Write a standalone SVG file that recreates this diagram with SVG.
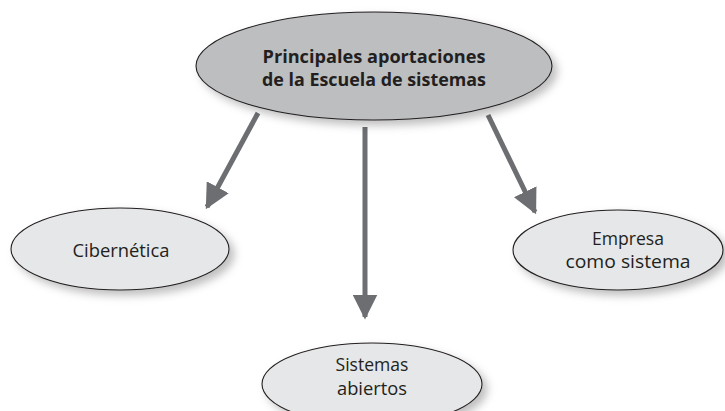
<svg xmlns="http://www.w3.org/2000/svg" width="725" height="411" viewBox="0 0 725 411">
<defs>
<filter id="sh" x="-20%" y="-20%" width="150%" height="160%">
<feDropShadow dx="5" dy="5" stdDeviation="4" flood-color="#000" flood-opacity="0.25"/>
</filter>
<marker id="ah" viewBox="0 0 10 10" refX="9" refY="5" markerWidth="5" markerHeight="5" orient="auto" markerUnits="strokeWidth">
<path d="M0,0 L10,5 L0,10 z" fill="#6d6e71"/>
</marker>
<style>
.n{stroke:#231f20;stroke-width:1.1;filter:url(#sh)}
.main{fill:#bcbec0}
.sub{fill:#e6e7e8}
.t{font-family:"Open Sans","Noto Sans",sans-serif;fill:#231f20;text-anchor:middle}
.tb{font-size:18.5px;font-weight:bold}
.ts{font-size:18px}
.c{stroke:#6d6e71;stroke-width:5;fill:none;marker-end:url(#ah)}
</style>
</defs>
<rect width="725" height="411" fill="#fff"/>
<g id="connectors">
<line class="c" x1="258" y1="113" x2="207" y2="207"/>
<line class="c" x1="365" y1="127" x2="365" y2="317"/>
<line class="c" x1="488" y1="115" x2="535" y2="212"/>
</g>
<g id="main">
<ellipse class="n main" cx="374" cy="66" rx="178" ry="54"/>
<text class="t tb" x="374" y="63" textLength="223" lengthAdjust="spacingAndGlyphs">Principales aportaciones</text>
<text class="t tb" x="374" y="86" textLength="224" lengthAdjust="spacingAndGlyphs">de la Escuela de sistemas</text>
</g>
<g id="cibernetica">
<ellipse class="n sub" cx="120" cy="249" rx="109" ry="41"/>
<text class="t ts" x="121" y="257" textLength="97" lengthAdjust="spacingAndGlyphs">Cibernética</text>
</g>
<g id="empresa">
<ellipse class="n sub" cx="618" cy="250" rx="105" ry="40"/>
<text class="t ts" x="628" y="245" textLength="72" lengthAdjust="spacingAndGlyphs">Empresa</text>
<text class="t ts" x="628" y="268" textLength="125" lengthAdjust="spacingAndGlyphs">como sistema</text>
</g>
<g id="sistemas">
<ellipse class="n sub" cx="372" cy="384" rx="110" ry="41"/>
<text class="t ts" x="372" y="371" textLength="73" lengthAdjust="spacingAndGlyphs">Sistemas</text>
<text class="t ts" x="372" y="395" textLength="70" lengthAdjust="spacingAndGlyphs">abiertos</text>
</g>
</svg>
